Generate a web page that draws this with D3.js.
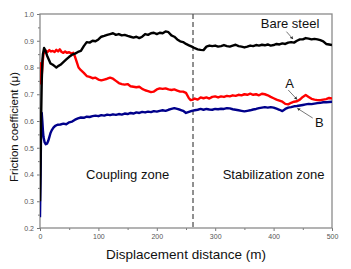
<!DOCTYPE html>
<html>
<head>
<meta charset="utf-8">
<script src="https://cdn.jsdelivr.net/npm/d3@7"></script>
<style>
  body { margin: 0; background: #fff; }
  svg { display: block; font-family: "Liberation Sans", Arial, sans-serif; }
</style>
</head>
<body>
<div id="chart"></div>
<script>
// data: [distance (m), friction coefficient]
const bareSteel = [[0,0.30],[1,0.45],[2,0.62],[3,0.75],[4,0.82],[5,0.85],[7,0.873],[9,0.865],[12,0.845],[15,0.83],[18,0.815],[22,0.81],[25,0.805],[28,0.80],[31,0.805],[35,0.81],[40,0.82],[45,0.83],[50,0.84],[55,0.848],[60,0.852],[65,0.858],[70,0.862],[75,0.88],[80,0.895],[85,0.893],[90,0.90],[95,0.898],[100,0.905],[105,0.915],[110,0.918],[115,0.922],[120,0.925],[125,0.928],[130,0.922],[135,0.925],[140,0.92],[145,0.922],[150,0.918],[155,0.915],[160,0.912],[165,0.915],[170,0.91],[175,0.915],[180,0.925],[185,0.922],[190,0.928],[195,0.93],[200,0.925],[205,0.93],[210,0.928],[215,0.935],[220,0.932],[225,0.92],[230,0.915],[235,0.905],[240,0.898],[245,0.895],[250,0.888],[255,0.883],[260,0.878],[265,0.872],[270,0.868],[275,0.866],[280,0.865],[285,0.878],[290,0.882],[295,0.88],[300,0.882],[305,0.878],[310,0.88],[315,0.884],[320,0.88],[325,0.878],[330,0.882],[335,0.885],[340,0.88],[345,0.878],[350,0.875],[355,0.878],[360,0.882],[365,0.88],[370,0.884],[375,0.882],[380,0.885],[385,0.883],[390,0.886],[395,0.882],[400,0.884],[405,0.888],[410,0.886],[415,0.89],[420,0.888],[425,0.893],[430,0.895],[435,0.893],[440,0.9],[445,0.905],[450,0.905],[455,0.91],[460,0.908],[465,0.905],[470,0.907],[475,0.905],[480,0.902],[485,0.898],[490,0.888],[495,0.886],[500,0.884]];

const sampleA = [[0,0.82],[1,0.76],[2,0.74],[3,0.77],[4,0.80],[5,0.83],[6,0.85],[8,0.86],[10,0.863],[13,0.858],[16,0.865],[19,0.86],[22,0.862],[25,0.858],[28,0.866],[31,0.86],[34,0.868],[37,0.858],[40,0.855],[43,0.86],[46,0.855],[50,0.857],[54,0.852],[57,0.855],[60,0.84],[63,0.82],[66,0.80],[70,0.79],[75,0.78],[80,0.768],[85,0.765],[90,0.76],[95,0.762],[100,0.755],[105,0.752],[110,0.755],[115,0.758],[120,0.762],[125,0.758],[130,0.75],[135,0.742],[140,0.738],[145,0.736],[150,0.738],[155,0.73],[160,0.728],[165,0.726],[170,0.728],[175,0.72],[180,0.715],[185,0.712],[190,0.708],[195,0.71],[200,0.718],[205,0.722],[210,0.72],[215,0.722],[220,0.718],[225,0.716],[230,0.718],[235,0.714],[240,0.71],[245,0.71],[250,0.705],[255,0.685],[258,0.678],[262,0.68],[265,0.684],[270,0.68],[275,0.688],[280,0.685],[285,0.688],[290,0.684],[295,0.69],[300,0.692],[305,0.688],[310,0.692],[315,0.69],[320,0.694],[325,0.692],[330,0.696],[335,0.694],[340,0.698],[345,0.696],[350,0.7],[355,0.698],[360,0.702],[365,0.698],[370,0.7],[375,0.696],[380,0.702],[385,0.7],[390,0.696],[395,0.69],[400,0.685],[405,0.68],[410,0.676],[415,0.672],[420,0.664],[425,0.662],[430,0.668],[435,0.672],[440,0.674],[445,0.68],[450,0.69],[455,0.697],[460,0.69],[465,0.683],[470,0.68],[475,0.678],[480,0.678],[485,0.68],[490,0.682],[495,0.686],[500,0.684]];

const sampleB = [[0,0.24],[1,0.40],[2,0.60],[3,0.63],[4,0.60],[5,0.565],[6,0.54],[8,0.52],[10,0.513],[12,0.515],[14,0.525],[16,0.54],[18,0.555],[20,0.565],[23,0.575],[26,0.582],[30,0.586],[35,0.587],[40,0.59],[45,0.588],[50,0.595],[55,0.598],[60,0.605],[65,0.61],[70,0.613],[75,0.612],[80,0.616],[85,0.615],[90,0.618],[95,0.62],[100,0.618],[105,0.622],[110,0.62],[115,0.624],[120,0.622],[125,0.625],[130,0.623],[135,0.626],[140,0.624],[145,0.628],[150,0.626],[155,0.63],[160,0.628],[165,0.632],[170,0.63],[175,0.634],[180,0.632],[185,0.635],[190,0.633],[195,0.637],[200,0.635],[205,0.638],[210,0.64],[215,0.638],[220,0.642],[225,0.645],[230,0.648],[235,0.645],[240,0.642],[245,0.638],[250,0.63],[255,0.634],[260,0.638],[265,0.64],[270,0.642],[275,0.645],[280,0.642],[285,0.645],[290,0.643],[295,0.642],[300,0.645],[305,0.644],[310,0.646],[315,0.645],[320,0.648],[325,0.647],[330,0.644],[335,0.642],[340,0.64],[345,0.638],[350,0.636],[355,0.638],[360,0.64],[365,0.643],[370,0.645],[375,0.648],[380,0.65],[385,0.652],[390,0.65],[395,0.652],[400,0.65],[405,0.646],[410,0.642],[415,0.637],[420,0.645],[425,0.65],[430,0.652],[435,0.655],[440,0.656],[445,0.658],[450,0.66],[455,0.662],[460,0.664],[465,0.663],[470,0.665],[475,0.667],[480,0.668],[485,0.67],[490,0.67],[495,0.671],[500,0.672]];

const xTicks = [0, 100, 200, 300, 400, 500];
const xMinorTicks = [50, 150, 250, 350, 450];
const yTicks = [0.2, 0.3, 0.4, 0.5, 0.6, 0.7, 0.8, 0.9, 1.0];
const yMinorTicks = [0.25, 0.35, 0.45, 0.55, 0.65, 0.75, 0.85, 0.95];
const zoneBoundary = 262;
const zoneLabels = [["Coupling zone", 150], ["Stabilization zone", 400]];

const width = 351, height = 269;
const margin = { top: 14, right: 19, bottom: 41, left: 40 };
const innerWidth = width - margin.left - margin.right;
const innerHeight = height - margin.top - margin.bottom;

const svg = d3.select("#chart").append("svg")
  .attr("width", width)
  .attr("height", height);

const chart = svg.append("g")
  .attr("transform", `translate(${margin.left},${margin.top})`);

// scales
const x = d3.scaleLinear().domain([0, 500]).range([0, innerWidth]);
const y = d3.scaleLinear().domain([0.2, 1.0]).range([innerHeight, 0]);

svg.append("defs").append("clipPath").attr("id", "clip")
  .append("rect").attr("width", innerWidth).attr("height", innerHeight);

// axes
const xAxis = chart.append("g")
  .attr("transform", `translate(0,${innerHeight})`)
  .call(d3.axisBottom(x).tickValues(xTicks).tickSize(3).tickPadding(3).tickSizeOuter(0));
const xMinor = chart.append("g")
  .attr("transform", `translate(0,${innerHeight})`)
  .call(d3.axisBottom(x).tickValues(xMinorTicks).tickSize(2).tickFormat("").tickSizeOuter(0));

const yAxis = chart.append("g")
  .call(d3.axisLeft(y).tickValues(yTicks).tickFormat(d3.format(".1f")).tickSize(3).tickPadding(3).tickSizeOuter(0));
const yMinor = chart.append("g")
  .call(d3.axisLeft(y).tickValues(yMinorTicks).tickSize(2).tickFormat("").tickSizeOuter(0));

[xAxis, xMinor, yAxis, yMinor].forEach(a => {
  a.select(".domain").remove();
  a.selectAll("line").attr("stroke", "#777").attr("stroke-width", 1);
  a.selectAll("text").attr("fill", "#555").attr("font-size", "7px")
    .attr("font-family", "'Liberation Sans', Arial, sans-serif");
});

// frame
chart.append("rect")
  .attr("width", innerWidth)
  .attr("height", innerHeight)
  .attr("fill", "none")
  .attr("stroke", "#8a8a8a")
  .attr("stroke-width", 1.3);

// zone boundary
chart.append("line")
  .attr("x1", x(zoneBoundary)).attr("x2", x(zoneBoundary))
  .attr("y1", 0).attr("y2", innerHeight)
  .attr("stroke", "#555")
  .attr("stroke-width", 1.3)
  .attr("stroke-dasharray", "5,3");

// curves
const line = d3.line().x(d => x(d[0])).y(d => y(d[1]));
const curves = chart.append("g").attr("clip-path", "url(#clip)");
[[sampleB, "#00008b"], [sampleA, "#ff0000"], [bareSteel, "#000"]].forEach(([data, color]) => {
  curves.append("path")
    .datum(data)
    .attr("fill", "none")
    .attr("stroke", color)
    .attr("stroke-width", 2.4)
    .attr("stroke-linejoin", "round")
    .attr("d", line);
});

// zone labels
zoneLabels.forEach(([label, d]) => {
  chart.append("text")
    .attr("x", x(d))
    .attr("y", y(0.4) + 4)
    .attr("text-anchor", "middle")
    .attr("font-size", "13px")
    .attr("fill", "#111")
    .text(label);
});

// curve labels with leader arrows
svg.append("defs").append("marker")
  .attr("id", "arrow")
  .attr("viewBox", "0 0 6 6")
  .attr("refX", 5).attr("refY", 3)
  .attr("markerWidth", 4).attr("markerHeight", 4)
  .attr("orient", "auto")
  .append("path").attr("d", "M0,0L6,3L0,6Z").attr("fill", "#333");

const curveLabels = [
  { text: "Bare steel", at: [378, 0.946], from: [422, 0.934], to: [433, 0.907] },
  { text: "A", at: [420, 0.724], from: [425, 0.716], to: [440, 0.681] },
  { text: "B", at: [471, 0.578], from: [467, 0.611], to: [441, 0.647] }
];
curveLabels.forEach(l => {
  chart.append("text")
    .attr("x", x(l.at[0]))
    .attr("y", y(l.at[1]))
    .attr("font-size", "13px")
    .attr("fill", "#111")
    .text(l.text);
  chart.append("line")
    .attr("x1", x(l.from[0])).attr("y1", y(l.from[1]))
    .attr("x2", x(l.to[0])).attr("y2", y(l.to[1]))
    .attr("stroke", "#555")
    .attr("stroke-width", 0.8)
    .attr("marker-end", "url(#arrow)");
});

// axis titles
svg.append("text")
  .attr("x", margin.left + innerWidth / 2)
  .attr("y", 259)
  .attr("text-anchor", "middle")
  .attr("font-size", "13.5px")
  .attr("fill", "#111")
  .text("Displacement distance (m)");

svg.append("text")
  .attr("transform", `translate(18,${margin.top + innerHeight / 2 + 6}) rotate(-90)`)
  .attr("text-anchor", "middle")
  .attr("font-size", "11.5px")
  .attr("fill", "#111")
  .text("Friction coefficient (μ)");
</script>
</body>
</html>
